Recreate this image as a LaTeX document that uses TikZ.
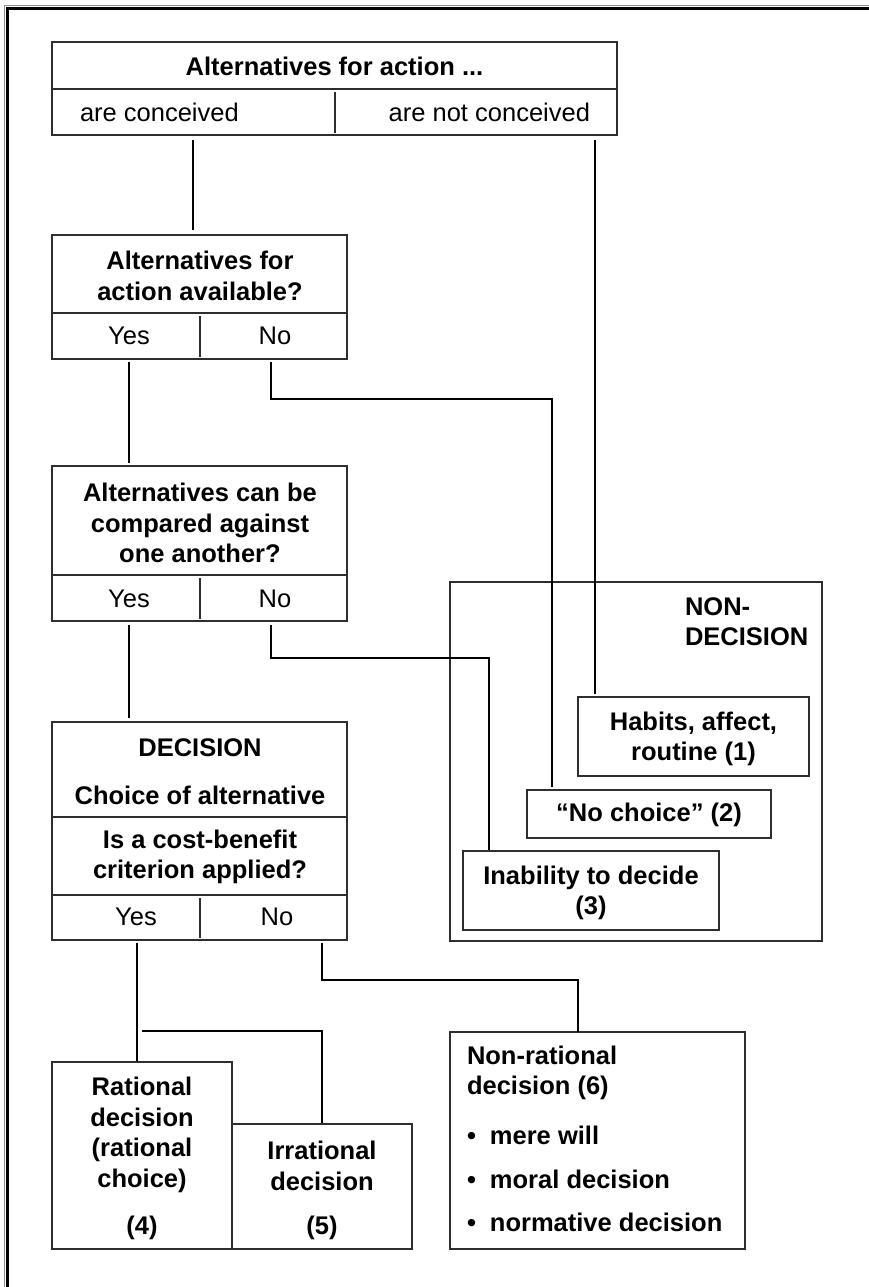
\documentclass[tikz,border=0pt]{standalone}
\usepackage{fontspec}
\setmainfont{Liberation Sans}
\begin{document}
\begin{tikzpicture}[x=1pt,y=-1pt,
  every node/.style={font=\fontsize{25.5}{30.5}\selectfont, inner sep=0pt, outer sep=0pt},
  bold/.style={font=\fontsize{25.5}{30.5}\selectfont\bfseries},
  panel/.style={draw=black!82, line width=1.5pt, rectangle, inner sep=0pt, outer sep=0pt},
  rule/.style={draw=black!82, line width=1.5pt},
  wire/.style={draw=black, line width=1.8pt},
]
\useasboundingbox (0,0) rectangle (869,1287);

% page frame: left and top edges only
\draw[black!45, line width=0.8pt] (4.8,1287) -- (4.8,5.8) -- (869,5.8);
\draw[black, line width=3pt] (7.6,1287) -- (7.6,8.6) -- (869,8.6);

% boxes: \panel{name}{x1}{y1}{x2}{y2}
\newcommand\panel[5]{\node[panel, minimum width={#4-#2}, minimum height={#5-#3}] (#1) at ({(#2+#4)/2},{(#3+#5)/2}) {};}

\panel{top}{52}{42}{617}{135}
\panel{avail}{52}{235}{347}{359}
\panel{compare}{52}{466}{347}{621}
\panel{dec}{52}{722}{347}{940}
\panel{nondec}{450}{582}{822}{941}
\panel{habits}{578}{697}{809}{776}
\panel{nochoice}{527}{790}{771}{838}
\panel{inability}{463}{851}{719}{930}
\panel{rational}{52}{1062}{232}{1249}
\panel{irrational}{232}{1124}{412}{1249}
\panel{nonrat}{450}{1032}{745}{1249}

% cell dividers
\draw[rule] (52,89) -- (617,89);
\draw[rule] (335,92) -- (335,133);
\draw[rule] (52,313) -- (347,313);
\draw[rule] (200,316) -- (200,357);
\draw[rule] (52,575) -- (347,575);
\draw[rule] (200,578) -- (200,619);
\draw[rule] (52,817) -- (347,817);
\draw[rule] (52,895) -- (347,895);
\draw[rule] (200,898) -- (200,938);

% texts
\node[bold] (toptext) at (334.5,66) {Alternatives for action ...};
\node[anchor=west] (conc) at (80,112) {are conceived};
\node[anchor=east] (notconc) at (590,112) {are not conceived};

\node[bold, align=center] (availq) at (200,276) {Alternatives for\\action available?};
\node (availyes) at (129,336) {Yes};
\node (availno) at (275,336) {No};

\node[bold, align=center] (compareq) at (200,523) {Alternatives can be\\compared against\\one another?};
\node (compareyes) at (129,599) {Yes};
\node (compareno) at (275,599) {No};

\node[bold] (dectitle) at (200,748) {DECISION};
\node[bold] (decchoice) at (200,795) {Choice of alternative};
\node[bold, align=center] (decq) at (200,857) {Is a cost-benefit\\criterion applied?};
\node (decyes) at (136,917) {Yes};
\node (decno) at (277,917) {No};

\node[bold, align=left, anchor=west] (nondectext) at (685,621.5) {NON-\\DECISION};
\node[bold, align=center] (habitstext) at (693.5,739) {Habits, affect,\\routine (1)};
\node[bold] (nochoicetext) at (649,815) {“No choice” (2)};
\node[bold, align=center] (inabilitytext) at (591,893) {Inability to decide\\(3)};

\node[bold, align=center] (rationaltext) at (142,1135) {Rational\\decision\\(rational\\choice)};
\node[bold] (rationalnum) at (142,1228) {(4)};
\node[bold, align=center] (irrationaltext) at (322,1166) {Irrational\\decision};
\node[bold] (irrationalnum) at (322,1228) {(5)};

\node[bold, align=left, anchor=west] (nonrattext) at (467,1073) {Non-rational\\decision (6)};
\node[bold, anchor=west] (will) at (467,1135) {\makebox[23pt][l]{\textbullet}mere will};
\node[bold, anchor=west] (moral) at (467,1179) {\makebox[23pt][l]{\textbullet}moral decision};
\node[bold, anchor=west] (normative) at (467,1222) {\makebox[23pt][l]{\textbullet}normative decision};

% connectors
\draw[wire] ([xshift=141pt,yshift=-5pt]top.south west) -- ([xshift=141pt,yshift=5pt]avail.north west);
\draw[wire] ([xshift=543pt,yshift=-5pt]top.south west) -- ([xshift=17pt,yshift=3pt]habits.north west);
\draw[wire] ([xshift=77pt,yshift=-3pt]avail.south west) -- ([xshift=77pt,yshift=3pt]compare.north west);
\draw[wire] ([xshift=219pt,yshift=-3pt]avail.south west) -- ++(0,37) -| ([xshift=25pt,yshift=3pt]nochoice.north west);
\draw[wire] ([xshift=77pt,yshift=-4pt]compare.south west) -- ([xshift=77pt,yshift=4pt]dec.north west);
\draw[wire] ([xshift=219pt,yshift=-4pt]compare.south west) -- ++(0,33) -| ([xshift=26pt,yshift=1pt]inability.north west);
\draw[wire] ([xshift=85pt,yshift=-3pt]dec.south west) -- ([xshift=85pt,yshift=1pt]rational.north west);
\coordinate (split) at (142,1031);
\draw[wire] (split) -| ([xshift=90pt,yshift=1pt]irrational.north west);
\draw[wire] ([xshift=270pt,yshift=-3pt]dec.south west) -- ++(0,37) -| ([xshift=128pt]nonrat.north west);
\end{tikzpicture}
\end{document}
